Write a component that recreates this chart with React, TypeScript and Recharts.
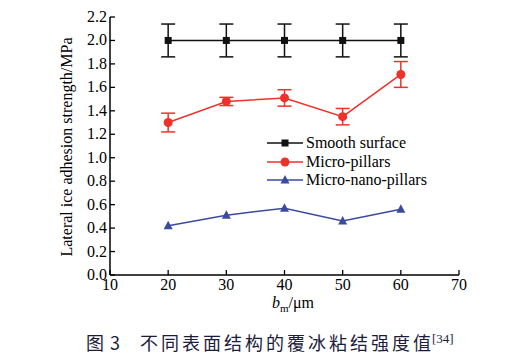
import { ErrorBar, Legend, Line, LineChart, XAxis, YAxis } from "recharts";

const bm = [20, 30, 40, 50, 60];
const smooth = [2.0, 2.0, 2.0, 2.0, 2.0];
const smoothErr = [0.14, 0.14, 0.14, 0.14, 0.14];
const pillars = [1.3, 1.48, 1.51, 1.35, 1.71];
const pillarsErr = [0.08, 0.035, 0.07, 0.07, 0.11];
const nano = [0.42, 0.51, 0.57, 0.46, 0.56];
const xTicks = [10, 20, 30, 40, 50, 60, 70];
const yTicks = [0, 0.2, 0.4, 0.6, 0.8, 1.0, 1.2, 1.4, 1.6, 1.8, 2.0, 2.2];

const BLACK = "#111111";
const RED = "#ee3129";
const BLUE = "#3b4a9c";
const SERIF = '"Liberation Serif", "Times New Roman", serif';

const data = bm.map((b, i) => ({
  b,
  smooth: smooth[i],
  smoothErr: smoothErr[i],
  pillars: pillars[i],
  pillarsErr: pillarsErr[i],
  nano: nano[i],
}));

const series = [
  { name: "Smooth surface", color: BLACK, shape: "square" },
  { name: "Micro-pillars", color: RED, shape: "circle" },
  { name: "Micro-nano-pillars", color: BLUE, shape: "triangle" },
];

function Marker({ cx, cy, color, shape }: any) {
  if (cx == null || cy == null) return null;
  if (shape === "square") return <rect x={cx - 3.5} y={cy - 3.5} width={7} height={7} fill={color} />;
  if (shape === "circle") return <circle cx={cx} cy={cy} r={4.5} fill={color} />;
  return <polygon points={`${cx},${cy - 5} ${cx + 4.5},${cy + 3.5} ${cx - 4.5},${cy + 3.5}`} fill={color} />;
}

function XTick({ x, y, payload }: any) {
  return (
    <g>
      <line x1={x} y1={y} x2={x} y2={y - 5} stroke="#000" strokeWidth={1.3} />
      <text x={x} y={y + 15} textAnchor="middle" fontFamily={SERIF} fontSize={16} fill="#000">
        {payload.value}
      </text>
    </g>
  );
}

function YTick({ x, y, payload }: any) {
  return (
    <g>
      <line x1={x} y1={y} x2={x + 5} y2={y} stroke="#000" strokeWidth={1.3} />
      <text x={x - 3} y={y + 5} textAnchor="end" fontFamily={SERIF} fontSize={16} fill="#000">
        {payload.value.toFixed(1)}
      </text>
    </g>
  );
}

function LegendBox() {
  return (
    <div style={{ fontFamily: SERIF, fontSize: 16, color: "#000", lineHeight: "18.5px" }}>
      {series.map((s) => (
        <div key={s.name} style={{ display: "flex", alignItems: "center", whiteSpace: "nowrap", height: 18.5 }}>
          <svg width={39} height={18}>
            <line x1={0} y1={9} x2={36} y2={9} stroke={s.color} strokeWidth={1.5} />
            <Marker cx={18} cy={9} color={s.color} shape={s.shape} />
          </svg>
          <span>{s.name}</span>
        </div>
      ))}
    </div>
  );
}

export default function App() {
  return (
    <div style={{ position: "absolute", left: 0, top: 0, width: 521, height: 355, background: "#fff" }}>
      <LineChart width={521} height={355} data={data} margin={{ top: 17, right: 62, bottom: 50, left: 70 }}>
        <XAxis
          dataKey="b"
          type="number"
          domain={[10, 70]}
          ticks={xTicks}
          height={30}
          tickSize={0}
          tickMargin={0}
          tick={<XTick />}
          axisLine={{ stroke: "#000", strokeWidth: 1.5 }}
          tickLine={false}
        />
        <XAxis xAxisId="top" orientation="top" type="number" domain={[10, 70]} height={0} tick={false} tickLine={false} axisLine={{ stroke: "#000", strokeWidth: 1.5 }} />
        <YAxis
          type="number"
          domain={[0, 2.2]}
          ticks={yTicks}
          width={40}
          tickSize={0}
          tickMargin={0}
          tick={<YTick />}
          axisLine={{ stroke: "#000", strokeWidth: 1.5 }}
          tickLine={false}
          interval={0}
        />
        <YAxis yAxisId="right" orientation="right" type="number" domain={[0, 2.2]} width={0} tick={false} tickLine={false} axisLine={{ stroke: "#000", strokeWidth: 1.5 }} />
        <Legend
          layout="vertical"
          align="center"
          verticalAlign="middle"
          content={<LegendBox />}
          wrapperStyle={{ left: 267, top: 134, width: 200 }}
        />
        <Line
          dataKey="smooth"
          name="Smooth surface"
          stroke={BLACK}
          strokeWidth={1.5}
          isAnimationActive={false}
          dot={(p: any) => <Marker key={`s${p.index}`} cx={p.cx} cy={p.cy} color={BLACK} shape="square" />}
          activeDot={false}
        >
          <ErrorBar dataKey="smoothErr" direction="y" width={7} stroke={BLACK} strokeWidth={1.5} isAnimationActive={false} />
        </Line>
        <Line
          dataKey="pillars"
          name="Micro-pillars"
          stroke={RED}
          strokeWidth={1.5}
          isAnimationActive={false}
          dot={(p: any) => <Marker key={`p${p.index}`} cx={p.cx} cy={p.cy} color={RED} shape="circle" />}
          activeDot={false}
        >
          <ErrorBar dataKey="pillarsErr" direction="y" width={7} stroke={RED} strokeWidth={1.5} isAnimationActive={false} />
        </Line>
        <Line
          dataKey="nano"
          name="Micro-nano-pillars"
          stroke={BLUE}
          strokeWidth={1.5}
          isAnimationActive={false}
          dot={(p: any) => <Marker key={`n${p.index}`} cx={p.cx} cy={p.cy} color={BLUE} shape="triangle" />}
          activeDot={false}
        />
      </LineChart>
      <div
        style={{
          position: "absolute",
          left: 67,
          top: 147,
          transform: "translate(-50%, -50%) rotate(-90deg)",
          whiteSpace: "nowrap",
          fontFamily: SERIF,
          fontSize: 16,
          color: "#000",
        }}
      >
        Lateral ice adhesion strength/MPa
      </div>
      <div style={{ position: "absolute", left: 272, top: 294, whiteSpace: "nowrap", fontFamily: SERIF, fontSize: 16, color: "#000" }}>
        <i>b</i>
        <sub style={{ fontSize: 11 }}>m</sub>/μm
      </div>
      <div
        style={{
          position: "absolute",
          left: 86,
          top: 333,
          whiteSpace: "nowrap",
          fontFamily: '"Noto Sans CJK SC", sans-serif',
          fontSize: 18,
          color: "#1c1c3c",
          lineHeight: "19px",
        }}
      >
        <span>图</span>
        <span style={{ marginLeft: 6 }}>3</span>
        <span style={{ marginLeft: 20, letterSpacing: 3 }}>不同表面结构的覆冰粘结强度值</span>
        <span style={{ fontFamily: SERIF, fontSize: 13, marginLeft: -2, position: "relative", top: -7 }}>[34]</span>
      </div>
    </div>
  );
}
